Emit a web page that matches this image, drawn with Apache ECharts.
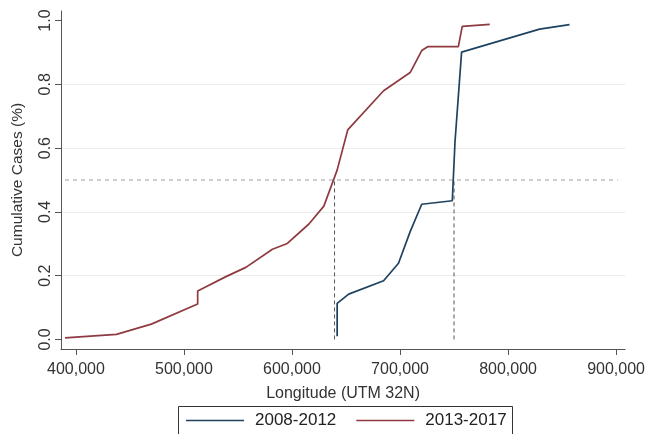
<!DOCTYPE html>
<html>
<head>
<meta charset="utf-8">
<script src="https://cdn.jsdelivr.net/npm/echarts@6/dist/echarts.min.js"></script>
<style>
html,body{margin:0;padding:0;background:#fff;}
#c{width:648px;height:434px;}
</style>
</head>
<body>
<div id="c"></div>
<script>
// Data
const seriesNames = ['2008-2012', '2013-2017'];
const blueX = [641800, 641800, 652500, 684800, 698600, 709400, 720100, 748400, 750900, 757000, 829200, 856900];
const blueY = [0.010, 0.113, 0.142, 0.184, 0.239, 0.338, 0.424, 0.435, 0.620, 0.901, 0.973, 0.987];
const redX = [389900, 437500, 469800, 512700, 512700, 517300, 538900, 557300, 581900, 595700, 615700, 629500, 641800, 651600, 684800, 709400, 720100, 725600, 754000, 757600, 783100];
const redY = [0.005, 0.016, 0.048, 0.111, 0.152, 0.160, 0.197, 0.226, 0.283, 0.301, 0.362, 0.418, 0.531, 0.657, 0.780, 0.837, 0.906, 0.918, 0.918, 0.982, 0.988];
const medianLevel = 0.5;
const medianX = [750000, 639400];      // 2008-2012, 2013-2017
const refLineX = [389900, 901500];     // extent of horizontal 50% line
const xTicks = [400000, 500000, 600000, 700000, 800000, 900000];
const yTicks = [0, 0.2, 0.4, 0.6, 0.8, 1.0];

const zip = (xs, ys) => xs.map((x, i) => [x, ys[i]]);
const fmtX = v => v.toLocaleString('en-US');

const chart = echarts.init(document.getElementById('c'), null, {renderer: 'canvas'});
const font = "'Liberation Sans', Arial, sans-serif";

const dashed = [];
dashed.push({
  type: 'line', silent: true, symbol: 'none', z: 1,
  data: [[refLineX[0], medianLevel], [refLineX[1], medianLevel]],
  lineStyle: {color: '#9a9a9a', width: 1, type: [4, 4]}
});
medianX.forEach(mx => dashed.push({
  type: 'line', silent: true, symbol: 'none', z: 1,
  data: [[mx, 0], [mx, medianLevel]],
  lineStyle: {color: '#555', width: 1, type: [4, 3]}
}));

chart.setOption({
  animation: false,
  backgroundColor: '#fff',
  grid: {left: 61, right: 20, top: 11, bottom: 85, containLabel: false},
  xAxis: {
    type: 'value', min: 386200, max: 908400,
    name: 'Longitude (UTM 32N)', nameLocation: 'middle', nameGap: 37,
    nameTextStyle: {fontFamily: font, fontSize: 16, color: '#333'},
    axisLine: {show: true, onZero: false, lineStyle: {color: '#555', width: 1}},
    axisTick: {show: true, length: 6, customValues: xTicks, lineStyle: {color: '#555'}},
    axisLabel: {customValues: xTicks, formatter: fmtX, margin: 13, fontFamily: font, fontSize: 16, color: '#333'},
    splitLine: {show: false}
  },
  yAxis: {
    type: 'value', min: -0.03, max: 1.03,
    name: 'Cumulative Cases (%)', nameLocation: 'middle', nameGap: 35,
    nameTextStyle: {fontFamily: font, fontSize: 15.5, color: '#333'},
    axisLine: {show: true, onZero: false, lineStyle: {color: '#555', width: 1}},
    axisTick: {show: true, length: 6, customValues: yTicks, lineStyle: {color: '#555'}},
    axisLabel: {customValues: yTicks, rotate: 90, formatter: v => v.toFixed(1), margin: 7, fontFamily: font, fontSize: 16, color: '#333'},
    splitLine: {show: true, showMinLine: false, showMaxLine: false, lineStyle: {color: '#ececec', width: 1}}
  },
  legend: {
    data: seriesNames,
    left: 186, top: 412, padding: 0,
    icon: 'rect', itemWidth: 58, itemHeight: 1.5, itemGap: 20,
    textStyle: {fontFamily: font, fontSize: 17, color: '#222', padding: [0, 0, 0, 6]}
  },
  graphic: [{
    type: 'rect', shape: {x: 178.5, y: 406.5, width: 334, height: 40},
    style: {fill: 'none', stroke: '#333', lineWidth: 1}, silent: true
  }],
  series: dashed.concat([
    {
      name: seriesNames[0], type: 'line', symbol: 'none', z: 3,
      data: zip(blueX, blueY),
      lineStyle: {color: '#1e4260', width: 1.7}, itemStyle: {color: '#1e4260'}
    },
    {
      name: seriesNames[1], type: 'line', symbol: 'none', z: 3,
      data: zip(redX, redY),
      lineStyle: {color: '#8e3a40', width: 1.7}, itemStyle: {color: '#8e3a40'}
    }
  ])
});
</script>
</body>
</html>
